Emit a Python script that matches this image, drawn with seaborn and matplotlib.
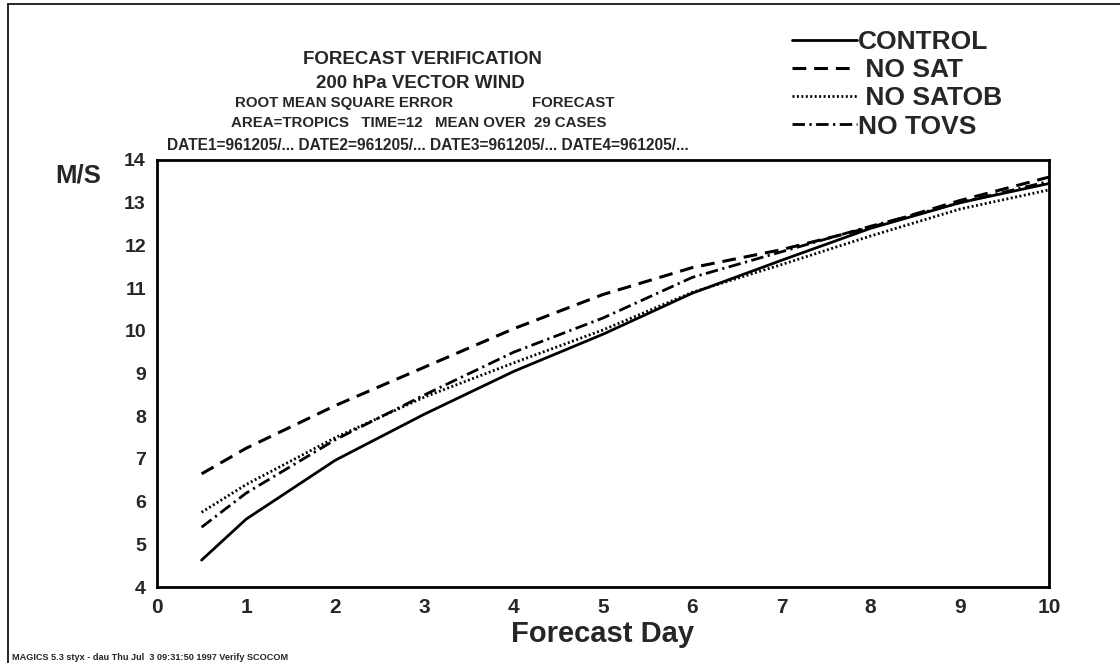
import matplotlib
matplotlib.use("Agg")
import matplotlib.pyplot as plt
import seaborn as sns
import pandas as pd
from matplotlib.lines import Line2D

days = [0.5, 1, 2, 3, 4, 5, 6, 7, 8, 9, 10]
control = [4.63, 5.59, 6.97, 8.05, 9.05, 9.92, 10.88, 11.65, 12.4, 13.0, 13.45]
no_sat = [6.65, 7.25, 8.25, 9.15, 10.05, 10.85, 11.48, 11.9, 12.42, 13.05, 13.6]
no_satob = [5.75, 6.4, 7.5, 8.45, 9.25, 10.02, 10.9, 11.55, 12.22, 12.85, 13.3]
no_tovs = [5.4, 6.2, 7.45, 8.5, 9.5, 10.3, 11.25, 11.85, 12.45, 13.0, 13.5]
series_names = ["CONTROL", "NO SAT", "NO SATOB", "NO TOVS"]
x_ticks = list(range(0, 11))
y_ticks = list(range(4, 15))

sns.set_theme(style="white")
plt.rcParams['font.family'] = ['Liberation Sans', 'DejaVu Sans']
plt.rcParams['font.weight'] = 'bold'

fig = plt.figure(figsize=(11.2, 6.63), dpi=100)
ax = fig.add_axes([157/1120, 1-587/663, (1049-157)/1120, (587-160)/663])

styles = {
    "CONTROL": dict(ls="-", lw=2.0),
    "NO SAT": dict(ls=(0, (4.5, 2.6)), lw=2.2),
    "NO SATOB": dict(ls=(0, (0.7, 0.9)), lw=2.0),
    "NO TOVS": dict(ls=(0, (4.5, 1.6, 0.8, 1.6)), lw=2.0),
}
data = [control, no_sat, no_satob, no_tovs]
for name, vals in zip(series_names, data):
    df = pd.DataFrame({"day": days, "value": vals})
    sns.lineplot(data=df, x="day", y="value", ax=ax, color="black",
                 linestyle=styles[name]["ls"], lw=styles[name]["lw"], legend=False)

ax.set_xlim(0, 10)
ax.set_ylim(4, 14)
ax.set_xticks(x_ticks)
ax.set_yticks(y_ticks)
ax.set_xticklabels([str(t) for t in x_ticks], fontsize=15, fontweight='bold')
ax.set_yticklabels([str(t) for t in y_ticks], fontsize=14, fontweight='bold')
ax.tick_params(axis='both', direction='out', length=6, width=1.2, color='black', pad=2)
ax.tick_params(axis='x', pad=2)
for sp in ax.spines.values():
    sp.set_visible(True)
    sp.set_color('black')
    sp.set_linewidth(2)
ax.set_xlabel("Forecast Day", fontsize=21, fontweight='bold', labelpad=2)
ax.set_ylabel("")
ax.grid(False)

fig.text(55/1120, 1-176/663, "M/S", fontsize=18.5, fontweight='bold', va='center', ha='left')

# Title block
fig.text(422/1120, 1-59/663, "FORECAST VERIFICATION", fontsize=13.5, fontweight='bold', ha='center', va='center')
fig.text(420/1120, 1-83/663, "200 hPa VECTOR WIND", fontsize=13.5, fontweight='bold', ha='center', va='center')
fig.text(235/1120, 1-103/663, "ROOT MEAN SQUARE ERROR", fontsize=10.8, fontweight='bold', ha='left', va='center')
fig.text(532/1120, 1-103/663, "FORECAST", fontsize=10.8, fontweight='bold', ha='left', va='center')
fig.text(231/1120, 1-123/663, "AREA=TROPICS   TIME=12   MEAN OVER  29 CASES", fontsize=10.8, fontweight='bold', ha='left', va='center')
fig.text(167/1120, 1-145/663, "DATE1=961205/... DATE2=961205/... DATE3=961205/... DATE4=961205/...",
         fontsize=11.2, fontweight='bold', ha='left', va='center')

# Legend
handles = [Line2D([0], [0], color='black', linestyle=styles[n]["ls"], lw=styles[n]["lw"]) for n in series_names]
labels = ["CONTROL", " NO SAT", " NO SATOB", "NO TOVS"]
leg = fig.legend(handles, labels, loc='upper left', bbox_to_anchor=(792/1120, 1-30/663),
                 frameon=False, prop={'size': 19, 'weight': 'bold', 'family': 'Liberation Sans'},
                 handlelength=2.45, handletextpad=0.05, labelspacing=0.16, borderaxespad=0, borderpad=0)

# Footer
fig.text(12/1120, 1-657/663, "MAGICS 5.3 styx - dau Thu Jul  3 09:31:50 1997 Verify SCOCOM",
         fontsize=6.6, fontweight='bold', ha='left', va='center')

# Page frame lines
fig.add_artist(Line2D([8/1120, 8/1120], [0, 1-4/663], transform=fig.transFigure, color='black', lw=1.2))
fig.add_artist(Line2D([8/1120, 1], [1-4/663, 1-4/663], transform=fig.transFigure, color='black', lw=1.2))

fig.savefig("out.png", dpi=100, facecolor='white')
